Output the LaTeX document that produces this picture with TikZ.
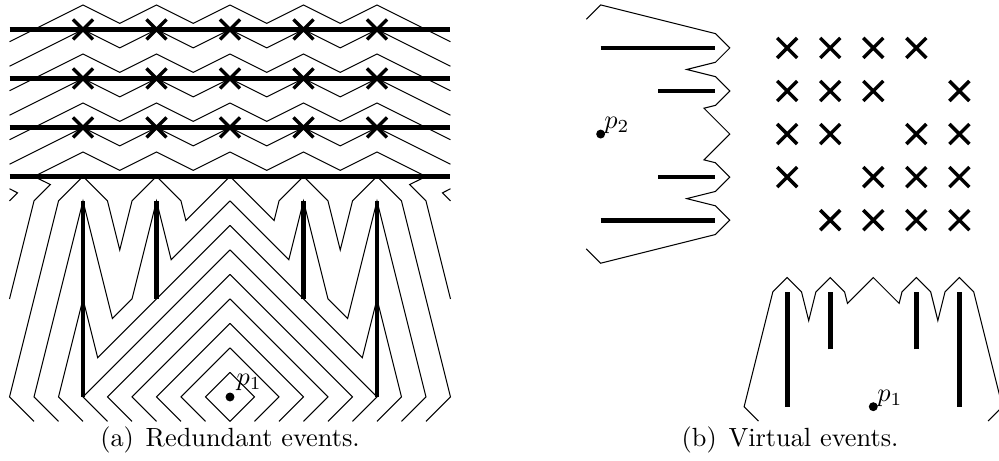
\documentclass[tikz,border=0pt]{standalone}
\usepackage{tikz}
\usetikzlibrary{shapes.misc}
\tikzset{
  front/.style   = {thin},
  wall/.style    = {line width=1.8pt},
  evt/.style     = {cross out, draw, line width=1.3pt, minimum size=6.3pt, inner sep=0pt},
  site/.style    = {circle, fill, minimum size=3.4pt, inner sep=0pt},
  sitelbl/.style = {anchor=base west, inner sep=0pt},
  capt/.style    = {anchor=base, font=\normalsize},
  barriers/.pic  = {
    \draw[wall] (-6,0) -- (-6,8);
    \draw[wall] (-3,4) -- (-3,8);
    \draw[wall] (3,4) -- (3,8);
    \draw[wall] (6,0) -- (6,8);
  },
  wavenine/.pic  = {
    \draw[front] (-8,-1) -- (-9,0) -- (-7,8) -- (-6,9) -- (-5,8) -- (-4.5,6) -- (-4,8)
      -- (-3,9) -- (-2,8) -- (-1.8,7.2) -- (0,9) -- (1.8,7.2) -- (2,8) -- (3,9)
      -- (4,8) -- (4.5,6) -- (5,8) -- (6,9) -- (7,8) -- (9,0) -- (8,-1);
  },
}

\begin{document}
\begin{tikzpicture}[x=9.31pt, y=9.31pt]
\useasboundingbox (-9.388,-2.612) rectangle (31.388,16.204);

% (a) redundant events
\foreach \s in {1,-1}{
  \begin{scope}[xscale=\s]
    \foreach \d in {1,...,5}
      \draw[front] (1-\d,-1) -- (-\d,0) -- (0,\d);
    \draw[front] (-5,-1) -- (-6,0) -- (0,6);
    \draw[front] (-6,-1) -- (-7,0) -- (-6,4) -- (-5.4,1.6) -- (0,7);
    \draw[front] (-7,-1) -- (-8,0) -- (-6,8) -- (-4.8,3.2) -- (-4,4) -- (-3,8)
      -- (-2.4,5.6) -- (0,8);
    \draw[front] (-9,4) -- (-8,8) -- (-7.33,8.67) -- (-8,9);
    \draw[front] (-9,8) -- (-8.67,8.33) -- (-9,8.5);
    \draw[front] (-8,9) -- (-6,10) -- (-4.5,9.25) -- (-3,10) -- (-1.5,9.25) -- (0,10);
    \foreach \p in {11,...,16}
      \draw[front] (-9,\p-1.5) -- (-6,\p) -- (-4.5,\p-0.75) -- (-3,\p)
        -- (-1.5,\p-0.75) -- (0,\p);
  \end{scope}
}
\pic {wavenine};
\pic {barriers};
\foreach \y in {9,11,13,15}
  \draw[wall] (-9,\y) -- (9,\y);
\foreach \y [count=\j] in {11,13,15}
  \foreach \x [count=\i] in {-6,-3,0,3,6}
    \node[evt] (ra\i\j) at (\x,\y) {};
\node[site] (p1) at (0,0) {};
\node[sitelbl] (p1lbl) at ([shift={(2.3pt,4.5pt)}]p1.center) {$p_1$};
\node[capt] (capa) at (0,-2.02) {(a)\hspace{4.5pt}Redundant events.};

% (b) virtual events
\begin{scope}[shift={(26.257,-0.396)}, scale=0.5857]
  \pic[transform shape] {wavenine};
  \pic[transform shape] {barriers};
  \begin{scope}[shift={(-19,19)}, rotate=-90]
    \pic[transform shape] {wavenine};
    \pic[transform shape] {barriers};
  \end{scope}
  \foreach \i in {0,...,4}
    \foreach \j in {0,...,4}{
      \ifnum\i=\j\else
        \node[evt] (ve\i\j) at (3*\i-6,13+3*\j) {};
      \fi
    }
  \node[site] (q1) at (0,0) {};
  \node[sitelbl] (q1lbl) at ([shift={(2.3pt,3.3pt)}]q1.center) {$p_1$};
  \node[site] (q2) at (-19,19) {};
  \node[sitelbl] (q2lbl) at ([shift={(2.1pt,3.8pt)}]q2.center) {$p_2$};
\end{scope}
\node[capt] (capb) at (22.86,-2.02) {(b)\hspace{4.5pt}Virtual events.};
\end{tikzpicture}
\end{document}
